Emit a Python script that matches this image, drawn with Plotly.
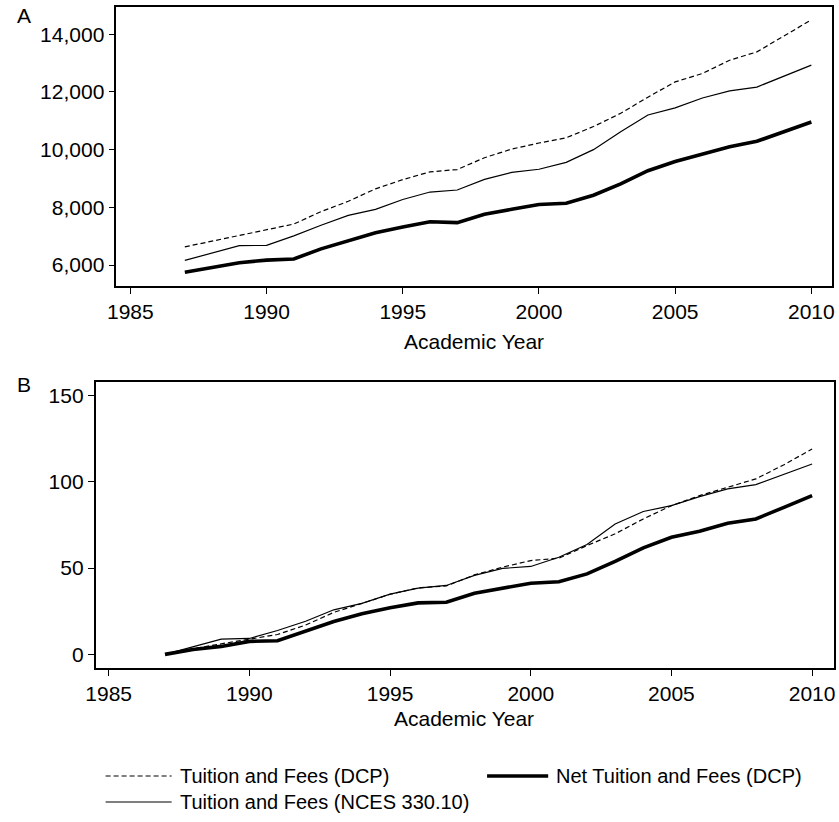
import plotly.graph_objects as go

# Academic years shown on both panels
years = list(range(1987, 2011))

# Panel A: dollar amounts
tuition_dcp = [6630, 6830, 7030, 7240, 7420, 7850, 8210, 8640, 8960, 9230, 9310, 9720,
               10020, 10230, 10410, 10800, 11260, 11820, 12350, 12640, 13100, 13390, 13930, 14500]
tuition_nces = [6160, 6410, 6670, 6680, 7010, 7380, 7720, 7930, 8270, 8530, 8600, 8970,
                9210, 9320, 9560, 10000, 10620, 11200, 11450, 11790, 12040, 12170, 12540, 12930]
net_tuition_dcp = [5750, 5920, 6080, 6170, 6210, 6560, 6850, 7120, 7320, 7500, 7470, 7760,
                   7930, 8100, 8140, 8420, 8810, 9270, 9590, 9830, 10100, 10290, 10630, 10960]

# Panel B: percent change since 1987
pct_tuition_dcp = [0, 3.3, 6.1, 8.9, 11.5, 17.0, 24.3, 29.5, 34.8, 38.5, 39.6, 46.0,
                   50.5, 54.3, 55.7, 63.0, 69.8, 78.4, 86.1, 91.9, 96.7, 101.6, 109.8, 118.9]
pct_tuition_nces = [0, 4.2, 8.8, 9.2, 13.8, 19.2, 25.8, 29.5, 34.9, 38.3, 39.9, 45.7,
                    49.8, 50.9, 56.2, 63.6, 75.5, 82.7, 86.1, 91.3, 95.8, 98.3, 104.4, 110.2]
pct_net_tuition_dcp = [0, 2.8, 4.6, 7.5, 7.9, 13.2, 19.0, 23.5, 27.0, 29.8, 30.2, 35.4,
                       38.3, 41.2, 42.0, 46.6, 53.9, 61.7, 67.8, 71.3, 75.9, 78.4, 85.1, 91.9]

x_ticks = [1985, 1990, 1995, 2000, 2005, 2010]
a_ticks = [6000, 8000, 10000, 12000, 14000]
b_ticks = [0, 50, 100, 150]

series_names = ["Tuition and Fees (DCP)", "Net Tuition and Fees (DCP)",
                "Tuition and Fees (NCES 330.10)"]

W, H = 839, 822
FONT = "Liberation Sans, Arial, sans-serif"

dash_style = dict(color="black", width=1.2, dash="5px,3px")
thin_style = dict(color="black", width=1.2)
thick_style = dict(color="black", width=3.6)

fig = go.Figure()

panels = [
    ("x", "y", tuition_dcp, tuition_nces, net_tuition_dcp),
    ("x2", "y2", pct_tuition_dcp, pct_tuition_nces, pct_net_tuition_dcp),
]
for xa, ya, dcp, nces, net in panels:
    fig.add_trace(go.Scatter(x=years, y=dcp, mode="lines", line=dash_style,
                             name=series_names[0], xaxis=xa, yaxis=ya, showlegend=False))
    fig.add_trace(go.Scatter(x=years, y=nces, mode="lines", line=thin_style,
                             name=series_names[2], xaxis=xa, yaxis=ya, showlegend=False))
    fig.add_trace(go.Scatter(x=years, y=net, mode="lines", line=thick_style,
                             name=series_names[1], xaxis=xa, yaxis=ya, showlegend=False))

axis_common = dict(
    showline=True, mirror=True, linecolor="black", linewidth=1.8,
    showgrid=False, zeroline=False,
    ticks="outside", ticklen=6, tickwidth=1.2, tickcolor="black",
    tickfont=dict(family=FONT, size=21, color="black"),
)

fig.update_layout(
    width=W, height=H,
    margin=dict(l=0, r=0, t=0, b=0),
    paper_bgcolor="white", plot_bgcolor="white",
    font=dict(family=FONT, size=21, color="black"),
    xaxis=dict(domain=[108 / W, 834 / W], range=[1984.49, 2010.76],
               tickvals=x_ticks, anchor="y", **axis_common),
    yaxis=dict(domain=[1 - 286 / H, 1 - 7 / H], range=[5272, 14946],
               tickvals=a_ticks, tickformat=",d", anchor="x", **axis_common),
    xaxis2=dict(domain=[87 / W, 836 / W], range=[1984.54, 2010.78],
                tickvals=x_ticks, anchor="y2", **axis_common),
    yaxis2=dict(domain=[1 - 668 / H, 1 - 382 / H], range=[-7.9, 157.7],
                tickvals=b_ticks, anchor="x2", **axis_common),
)

annotations = [
    dict(text="A", x=14 / W, y=1 - 16 / H),
    dict(text="B", x=14 / W, y=1 - 385 / H),
    dict(text="Academic Year", x=471 / W, y=1 - 341 / H),
    dict(text="Academic Year", x=461 / W, y=1 - 718 / H),
]
for a in annotations:
    fig.add_annotation(xref="paper", yref="paper", showarrow=False,
                       xanchor="center", yanchor="middle",
                       font=dict(family=FONT, size=21, color="black"), **a)

# Key below the panels: sample line followed by the series name
key = [
    (97, 164, 776, dash_style, series_names[0]),
    (484, 546, 776, thick_style, series_names[1]),
    (97, 164, 802, thin_style, series_names[2]),
]
for x0, x1, yk, style, label in key:
    fig.add_shape(type="line", xref="paper", yref="paper",
                  x0=x0 / W, x1=x1 / W, y0=1 - yk / H, y1=1 - yk / H, line=style)
    fig.add_annotation(xref="paper", yref="paper", showarrow=False,
                       x=(x1 + 6) / W, y=1 - yk / H, xanchor="left", yanchor="middle",
                       text=label, font=dict(family=FONT, size=20, color="black"))

fig.write_html("out.html")
